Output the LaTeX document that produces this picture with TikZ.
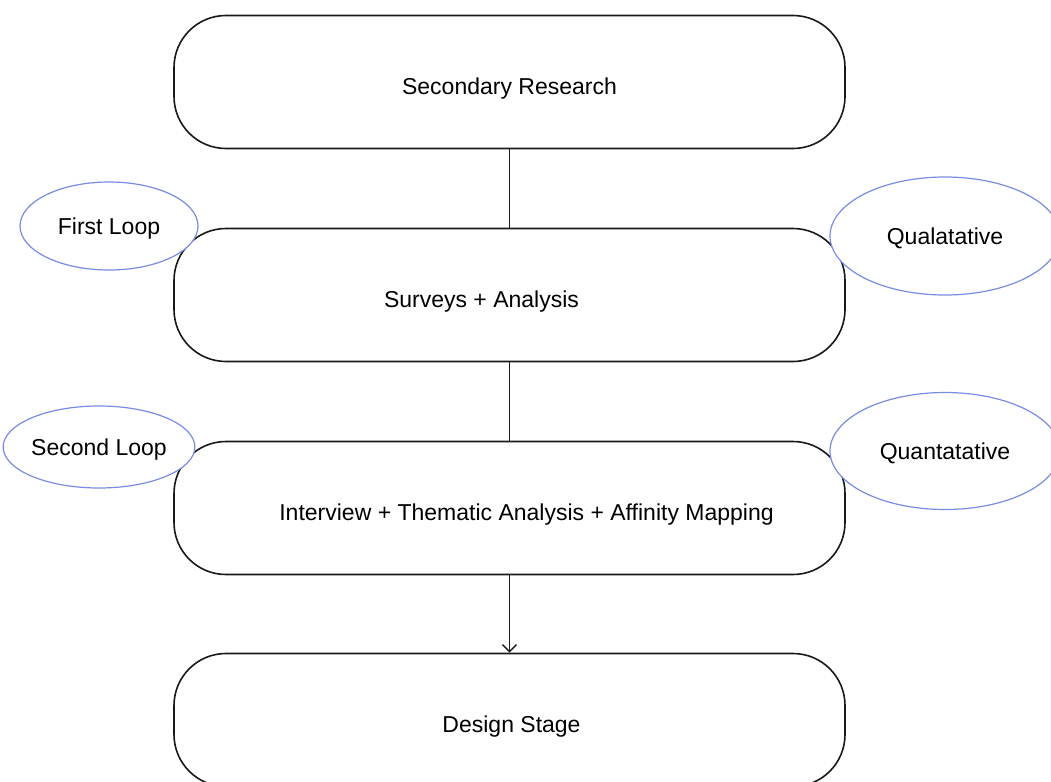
\documentclass[tikz,border=0pt]{standalone}
\usepackage{fontspec}
\setmainfont{Liberation Sans}
\usetikzlibrary{shapes.geometric,arrows.meta}
\definecolor{loopblue}{RGB}{120,140,228}
\tikzset{x=1pt, y=-1pt,
  stage box/.style={draw=black!90, line width=1.6pt, fill=white,
           rounded corners=52pt, minimum width=671pt,
           minimum height=133pt, inner sep=0pt},
  stage text/.style={text height=16.5pt, text depth=0pt, yshift=-4pt},
  tag ellipse/.style={ellipse, draw=loopblue, line width=1.2pt,
           fill=white, inner sep=0pt, text height=16.5pt, text depth=0pt},
  link/.style={draw=black!90, line width=1.4pt},
  every node/.style={font=\fontsize{23}{27}\selectfont}
}
\def\Stage#1#2#3#4{%
  \node[stage box, label={[stage text, xshift=#3]center:#4}] (#1) at (509.5,#2) {};
}

\begin{document}
\begin{tikzpicture}
\clip (0,0) rectangle (1051,781);
% stages
\Stage{Secondary}{82}{0pt}{Secondary Research}
\Stage{Surveys}{295}{-28pt}{Surveys + Analysis}
\Stage{Interview}{508}{17pt}{Interview + Thematic Analysis + Affinity Mapping}
\Stage{Design}{720}{2pt}{Design Stage}
% links
\draw[link] (Secondary) -- (Surveys);
\draw[link] (Surveys) -- (Interview);
\draw[link, -{Straight Barb[length=7pt,width=14pt]}] (Interview) -- (Design);
% tags
\node[tag ellipse, minimum width=178pt, minimum height=88pt] (FirstLoop) at (109,226) {First Loop};
\node[tag ellipse, minimum width=230pt, minimum height=118pt] (Quali) at (945,236) {Qualatative};
\node[tag ellipse, minimum width=178pt, minimum height=82pt] (SecondLoop) at (99,447) {Second Loop};
\node[tag ellipse, minimum width=230pt, minimum height=117pt] (Quanti) at (945,451) {Quantatative};
\end{tikzpicture}
\end{document}
